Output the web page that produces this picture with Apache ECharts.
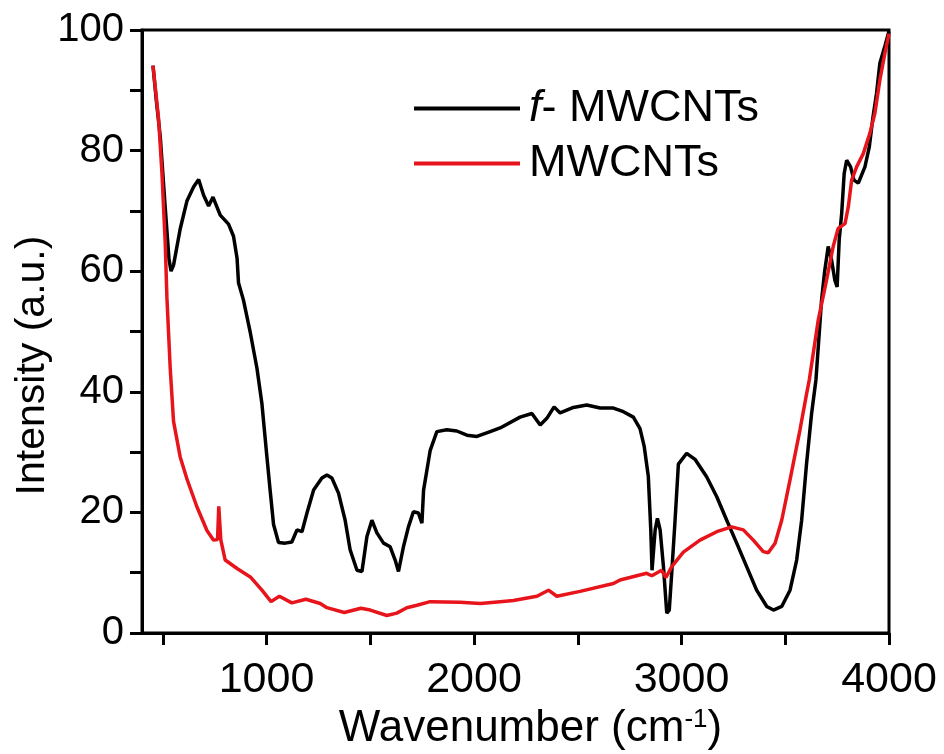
<!DOCTYPE html>
<html>
<head>
<meta charset="utf-8">
<title>FTIR</title>
<script src="https://cdn.jsdelivr.net/npm/echarts@6/dist/echarts.min.js"></script>
<style>
    html, body { margin: 0; padding: 0; background: #fff; }
    #main { width: 944px; height: 754px; }
</style>
</head>
<body>
<div id="main"></div>
<script>
// f-MWCNTs (black)
const fWave = [453, 470, 488, 512, 530, 540, 552, 584, 617, 649, 673, 697, 721, 742, 777, 817, 841, 858, 865, 889,
    922, 954, 978, 1002, 1018, 1034, 1058, 1090, 1122, 1147, 1171, 1195, 1227, 1267, 1291, 1315, 1347, 1379, 1403,
    1436, 1460, 1484, 1508, 1532, 1564, 1596, 1620, 1636, 1660, 1684, 1708, 1732, 1749, 1757, 1773, 1789, 1821,
    1869, 1917, 1966, 2014, 2078, 2126, 2222, 2279, 2319, 2351, 2386, 2415, 2479, 2543, 2608, 2672, 2720, 2768,
    2800, 2820, 2840, 2852, 2858, 2873, 2884, 2897, 2913, 2929, 2941, 2953, 2969, 2985, 3025, 3065, 3121, 3170,
    3218, 3266, 3314, 3362, 3411, 3443, 3483, 3523, 3555, 3579, 3603, 3627, 3648, 3675, 3690, 3707, 3723, 3739,
    3750, 3760, 3772, 3784, 3796, 3815, 3831, 3852, 3884, 3905, 3921, 3940, 3956, 3980, 4000];
const fIntensity = [94.1, 88, 82.3, 70.5, 62, 60, 61, 67, 71.7, 74, 75.2, 72.6, 70.8, 72.3, 69.3, 67.8, 65.8, 62.2, 58.1, 55.2,
    49.8, 43.9, 38, 29.2, 23.5, 18, 15, 14.9, 15.1, 17.1, 16.8, 19.9, 23.7, 25.7, 26.2, 25.7, 23.2, 18.7, 13.8,
    10.4, 10.2, 16, 18.7, 16.6, 14.9, 14.3, 12.1, 10.2, 14.3, 17.6, 20.1, 19.9, 18.2, 23.7, 27, 30.3, 33.4,
    33.7, 33.5, 32.8, 32.6, 33.4, 34, 35.8, 36.4, 34.5, 35.6, 37.5, 36.5, 37.4, 37.8, 37.3, 37.3, 36.7, 35.8,
    33.9, 31, 26, 17.1, 10.4, 17.1, 19, 17.1, 11, 3.3, 3.8, 10, 18.7, 28, 29.8, 28.8, 25.9, 22.6,
    18.7, 14.9, 11, 7.1, 4.4, 3.8, 4.4, 7.1, 12.1, 18.7, 28.2, 36.4, 42, 55.2, 60, 64.1, 61.9, 58.5,
    57.4, 65.2, 69.6, 76.2, 78.4, 77.3, 75.1, 74.6, 77.3, 80.6, 85.1, 89.5, 94.5, 97.3, 99.8];

// MWCNTs (red)
const rWave = [453, 480, 496, 512, 520, 536, 552, 584, 617, 665, 713, 745, 764, 770, 775, 780, 801, 858, 922, 978,
    1022, 1062, 1122, 1190, 1259, 1291, 1375, 1455, 1500, 1580, 1628, 1676, 1725, 1789, 1933, 2030, 2126, 2190,
    2303, 2359, 2399, 2511, 2672, 2704, 2832, 2857, 2864, 2904, 2925, 2953, 3009, 3089, 3170, 3242, 3298, 3346,
    3394, 3418, 3451, 3483, 3523, 3571, 3603, 3616, 3659, 3699, 3731, 3755, 3788, 3804, 3820, 3844, 3876, 3908,
    3932, 3956, 3980, 4000];
const rIntensity = [94.1, 85.2, 76.4, 64.6, 55.7, 43.9, 35.1, 29.2, 25.5, 20.9, 17, 15.4, 15.5, 21, 20.9, 15.4, 12.1, 10.7, 9.3, 7.1,
    5.2, 6.1, 5, 5.6, 4.9, 4.2, 3.4, 4.1, 3.8, 2.9, 3.3, 4.2, 4.6, 5.2, 5.1, 4.9, 5.2, 5.4,
    6.1, 7.1, 6.1, 6.9, 8.2, 8.8, 9.9, 9.5, 9.6, 10.4, 9.2, 11, 13.4, 15.4, 16.8, 17.6, 17.1, 15.4,
    13.5, 13.3, 14.9, 18.7, 25.4, 33.7, 39.7, 42, 51.9, 58.5, 64.1, 67.1, 67.9, 70.7, 75.1, 77.3, 79.5, 82.9,
    86.2, 91.7, 96.1, 99.4];

const xLabels = [1000, 2000, 3000, 4000];
const xTicks = [500, 1000, 1500, 2000, 2500, 3000, 3500, 4000];
const yTicks = [0, 10, 20, 30, 40, 50, 60, 70, 80, 90, 100];

const FONT = 'Liberation Sans';
const zip = (xs, ys) => xs.map((x, i) => [x, ys[i]]);

let myChart = echarts.init(document.getElementById('main'));
myChart.setOption({
    animation: false,
    textStyle: { fontFamily: FONT },
    grid: {
        left: 142, right: 55, top: 30, bottom: 121,
        outerBoundsMode: 'none',
        show: true, borderColor: '#000', borderWidth: 3
    },
    legend: {
        orient: 'vertical',
        left: 409, top: 81,
        itemWidth: 106, itemHeight: 4, itemGap: 10,
        icon: 'rect',
        data: ['f-MWCNTs', 'MWCNTs'],
        formatter: (name) => name === 'f-MWCNTs' ? '{i|f}- MWCNTs' : name,
        textStyle: {
            fontSize: 45, color: '#000', lineHeight: 45, padding: [0, 0, 0, 4],
            rich: { i: { fontSize: 45, fontStyle: 'italic', color: '#000' } }
        }
    },
    xAxis: {
        type: 'value', min: 400, max: 4000,
        name: 'Wavenumber (cm{sup|-1})',
        nameLocation: 'middle', nameGap: 72,
        nameTextStyle: {
            fontSize: 44, color: '#000', padding: [0, 0, 0, 30],
            rich: { sup: { fontSize: 26, verticalAlign: 'top', padding: [0, 0, 18, 0], color: '#000' } }
        },
        splitLine: { show: false },
        axisLine: { lineStyle: { color: '#000', width: 3 } },
        axisTick: { customValues: xTicks, length: 12, inside: false, lineStyle: { width: 3, color: '#000' } },
        axisLabel: { customValues: xLabels, fontSize: 43, color: '#000', margin: 26, formatter: (v) => String(v) }
    },
    yAxis: {
        type: 'value', min: 0, max: 100, interval: 20,
        name: 'Intensity (a.u.)',
        nameLocation: 'middle', nameGap: 89, nameRotate: 90,
        nameMoveOverlap: false,
        nameTextStyle: { fontSize: 41, color: '#000', padding: [0, 68, 0, 0] },
        splitLine: { show: false },
        axisLine: { lineStyle: { color: '#000', width: 3 } },
        axisTick: { customValues: yTicks, length: 12, lineStyle: { width: 3, color: '#000' } },
        axisLabel: { fontSize: 40, color: '#000', margin: 18 }
    },
    series: [{
        name: 'f-MWCNTs',
        type: 'line',
        showSymbol: false,
        data: zip(fWave, fIntensity),
        itemStyle: { color: '#000' },
        lineStyle: { color: '#000', width: 3.5 }
    }, {
        name: 'MWCNTs',
        type: 'line',
        showSymbol: false,
        data: zip(rWave, rIntensity),
        itemStyle: { color: '#e8141b' },
        lineStyle: { color: '#e8141b', width: 3.5 }
    }]
});
</script>
</body>
</html>
